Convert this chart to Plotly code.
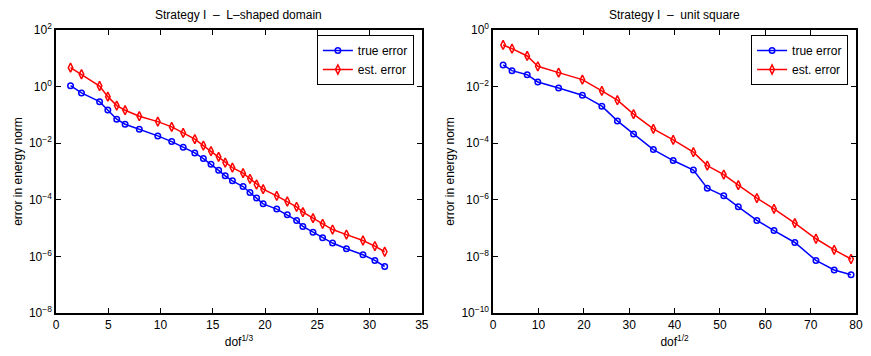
import plotly.graph_objects as go

# ---- data: Strategy I, L-shaped domain (x = dof^(1/3)) ----
l_x = [1.39, 2.44, 4.17, 4.96, 5.81, 6.61, 7.97, 9.74, 11.07, 12.17, 13.28, 14.10,
       14.83, 15.56, 16.19, 16.88, 17.90, 18.56, 19.19, 19.82, 21.12, 22.13, 23.02,
       23.62, 24.59, 25.51, 26.46, 27.79, 29.37, 30.51, 31.45]
l_true = [1.08, 0.60, 0.294, 0.15, 0.0705, 0.0469, 0.0313, 0.0181, 0.0114, 0.00723,
          0.00455, 0.00286, 0.00182, 0.0011, 0.000703, 0.000468, 0.000294, 0.000181,
          0.000115, 7.2e-5, 4.7e-5, 2.95e-5, 1.86e-5, 1.14e-5, 7.2e-6, 4.55e-6,
          2.96e-6, 1.86e-6, 1.14e-6, 7.2e-7, 4.4e-7]
l_est = [4.67, 2.73, 1.05, 0.442, 0.213, 0.1465, 0.090, 0.058, 0.0377, 0.0231,
         0.0139, 0.00824, 0.00522, 0.00329, 0.00207, 0.00138, 0.000875, 0.000551,
         0.000347, 0.000238, 0.000138, 8.7e-5, 5.65e-5, 3.67e-5, 2.25e-5, 1.42e-5,
         8.9e-6, 5.9e-6, 3.65e-6, 2.32e-6, 1.46e-6]

# ---- data: Strategy I, unit square (x = dof^(1/2)) ----
u_x = [2.19, 4.15, 7.50, 9.84, 14.43, 19.67, 23.96, 27.39, 30.95, 35.32, 39.69,
       44.15, 47.21, 50.84, 54.05, 58.14, 61.92, 66.51, 71.17, 75.19, 78.91]
u_true = [0.0582, 0.0366, 0.0264, 0.0146, 0.00897, 0.00496, 0.00203, 0.000614,
          0.000213, 5.96e-5, 2.44e-5, 1.12e-5, 2.58e-6, 1.38e-6, 5.65e-7, 1.86e-7,
          8.2e-8, 3.1e-8, 7.2e-9, 3.3e-9, 2.25e-9]
u_est = [0.296, 0.219, 0.121, 0.0523, 0.0311, 0.0176, 0.00703, 0.0033, 0.00106,
         0.00032, 0.000131, 4.8e-5, 1.62e-5, 7.8e-6, 3.3e-6, 1.15e-6, 4.8e-7,
         1.5e-7, 4.2e-8, 1.71e-8, 8.1e-9]

titles = ["Strategy I  \u2013  L\u2013shaped domain", "Strategy I  \u2013  unit square"]
x_titles = ["dof<sup>1/3</sup>", "dof<sup>1/2</sup>"]
y_title = "error in energy norm"
series_names = ["true error", "est. error"]
l_xticks = [0, 5, 10, 15, 20, 25, 30, 35]
u_xticks = [0, 10, 20, 30, 40, 50, 60, 70, 80]
l_yexp = [2, 0, -2, -4, -6, -8]
u_yexp = [0, -2, -4, -6, -8, -10]

BLUE = "#0000ff"
RED = "#ff0000"
FONT = "Liberation Sans, Arial, Helvetica, sans-serif"

fig = go.Figure()

def add_pair(xs, t, e, xa, ya, leg):
    fig.add_trace(go.Scatter(x=xs, y=t, name=series_names[0], mode="lines+markers",
                             line=dict(color=BLUE, width=1.5),
                             marker=dict(symbol="circle-open", size=5.5, color=BLUE,
                                         line=dict(width=1.5, color=BLUE)),
                             xaxis=xa, yaxis=ya, legend=leg))
    fig.add_trace(go.Scatter(x=xs, y=e, name=series_names[1], mode="lines+markers",
                             line=dict(color=RED, width=1.5),
                             marker=dict(symbol="diamond-tall-open", size=6.5, color=RED,
                                         line=dict(width=1.5, color=RED)),
                             xaxis=xa, yaxis=ya, legend=leg))

add_pair(l_x, l_true, l_est, "x", "y", "legend")
add_pair(u_x, u_true, u_est, "x2", "y2", "legend2")

axis_common = dict(showline=True, linecolor="black", linewidth=1.5, mirror="ticks",
                   ticks="inside", ticklen=5, tickwidth=1, tickcolor="black",
                   showgrid=False, zeroline=False,
                   tickfont=dict(family=FONT, size=12, color="black"))

def sup(e):
    return "10<sup>" + (str(e) if e >= 0 else "\u2212" + str(-e)) + "</sup>"

W, H = 871, 356
ml, mr, mt, mb = 56, 8, 30, 43
pw = W - ml - mr
d1 = [0, (425 - ml) / pw]
d2 = [(497 - ml) / pw, 1]

fig.update_layout(
    width=W, height=H,
    margin=dict(l=ml, r=mr, t=mt, b=mb),
    paper_bgcolor="white", plot_bgcolor="white",
    font=dict(family=FONT, size=12, color="black"),
    xaxis=dict(domain=d1, range=[0, 35], tickvals=l_xticks, anchor="y",
               title=dict(text=x_titles[0], standoff=6, font=dict(size=12)), **axis_common),
    yaxis=dict(type="log", range=[-8, 2], tickvals=[10 ** e for e in l_yexp],
               ticktext=[sup(e) for e in l_yexp],
               anchor="x", title=dict(text=y_title, standoff=4, font=dict(size=12)),
               **axis_common),
    xaxis2=dict(domain=d2, range=[0, 80], tickvals=u_xticks, anchor="y2",
                title=dict(text=x_titles[1], standoff=6, font=dict(size=12)), **axis_common),
    yaxis2=dict(type="log", range=[-10, 0], tickvals=[10 ** e for e in u_yexp],
                ticktext=[sup(e) for e in u_yexp],
                anchor="x2", title=dict(text=y_title, standoff=4, font=dict(size=12)),
                **axis_common),
    legend=dict(x=(417 - ml) / pw, y=(313 - 35) / 283, xanchor="right", yanchor="top",
                bgcolor="white", bordercolor="black", borderwidth=1,
                font=dict(family=FONT, size=12), tracegroupgap=0, itemwidth=30),
    legend2=dict(x=(855 - ml) / pw, y=(313 - 35) / 283, xanchor="right", yanchor="top",
                 bgcolor="white", bordercolor="black", borderwidth=1,
                 font=dict(family=FONT, size=12), tracegroupgap=0, itemwidth=30),
    showlegend=True,
)

for dom, t in zip([d1, d2], titles):
    fig.add_annotation(text=t, x=(dom[0] + dom[1]) / 2, y=1, xref="paper", yref="paper",
                       xanchor="center", yanchor="bottom", yshift=6, showarrow=False,
                       font=dict(family=FONT, size=12, color="black"))

fig.write_html("out.html")
